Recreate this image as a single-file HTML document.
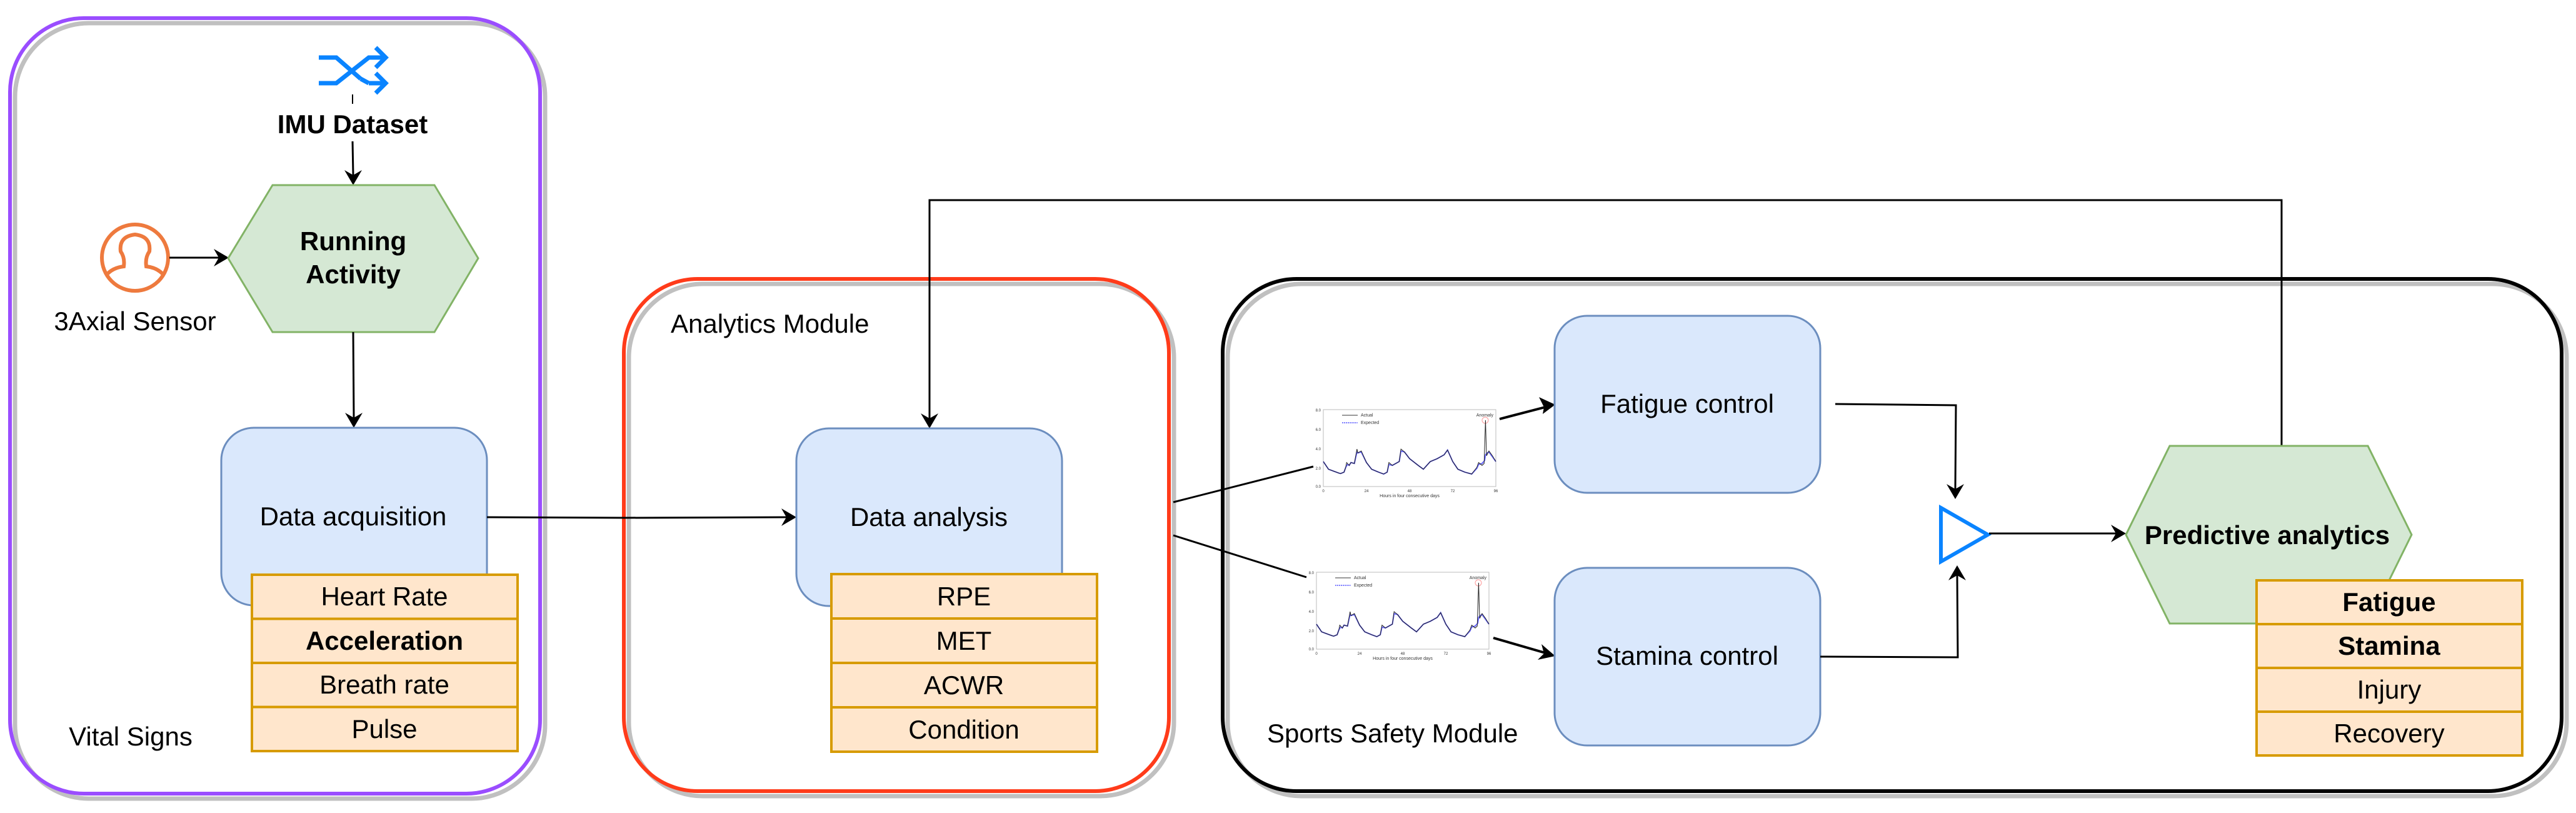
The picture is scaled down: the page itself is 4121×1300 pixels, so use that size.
<!DOCTYPE html>
<html><head><meta charset="utf-8"><style>
html,body{margin:0;padding:0;background:#fff;}
svg{display:block;}
text{font-family:"Liberation Sans",Arial,sans-serif;font-size:42px;fill:#000;}
.b{font-weight:bold;}
text.s6{font-size:6px;fill:#333;}
text.s7{font-size:7px;fill:#333;}
</style></head><body>
<svg width="4121" height="1300" viewBox="0 0 4121 1300" xmlns="http://www.w3.org/2000/svg">
<defs>
<symbol id="chart" overflow="visible">
 <rect x="0" y="0" width="276" height="123" fill="#fff" stroke="#bbb" stroke-width="1"/>
 <text class="s6" x="-4" y="3" style="font-size:6px" text-anchor="end">8.0</text>
 <text class="s6" x="-4" y="34" style="font-size:6px" text-anchor="end">6.0</text>
 <text class="s6" x="-4" y="65" style="font-size:6px" text-anchor="end">4.0</text>
 <text class="s6" x="-4" y="96" style="font-size:6px" text-anchor="end">2.0</text>
 <text class="s6" x="-4" y="125" style="font-size:6px" text-anchor="end">0.0</text>
 <text class="s6" x="0" y="132" style="font-size:6px" text-anchor="middle">0</text>
 <text class="s6" x="69" y="132" style="font-size:6px" text-anchor="middle">24</text>
 <text class="s6" x="138" y="132" style="font-size:6px" text-anchor="middle">48</text>
 <text class="s6" x="207" y="132" style="font-size:6px" text-anchor="middle">72</text>
 <text class="s6" x="276" y="132" style="font-size:6px" text-anchor="middle">96</text>
 <text class="s7" x="138" y="140" style="font-size:7px" text-anchor="middle">Hours in four consecutive days</text>
 <text class="s7" x="60" y="11" style="font-size:7px">Actual</text>
 <text class="s7" x="60" y="23" style="font-size:7px">Expected</text>
 <text class="s7" x="272" y="11" style="font-size:7px" text-anchor="end">Anomaly</text>
 <line x1="30" y1="9" x2="55" y2="9" stroke="#333" stroke-width="1"/>
 <line x1="30" y1="21" x2="55" y2="21" stroke="#55f" stroke-width="1.5" stroke-dasharray="2 1"/>
 <circle cx="259" cy="17" r="5" fill="none" stroke="#f99" stroke-width="1"/>
 <g transform="translate(0,123) scale(2.76,-15.375)">
  <polyline fill="none" stroke="#66f" stroke-width="2" vector-effect="non-scaling-stroke" points="0,2.6 3,1.8 6,1.6 9,1.4 10,1.35 12,1.5 13,2.0 14,2.3 15,2.2 16,2.5 18,2.4 19.5,3.6 20,3.5 22,3.6 25,2.5 28,1.8 32,1.5 35,1.3 37,1.5 38,2.3 40,2.2 44,2.6 45,3.7 47,3.6 50,2.9 55,2.2 58,1.8 62,2.6 66,2.9 70,3.3 72,3.8 75,2.6 78,1.8 82,1.5 86,1.3 89,1.9 90,2.3 92,2.4 93.5,2.7 94,3.3 95,3.5 96,3.6 98,3.1 100,2.6"/>
  <polyline fill="none" stroke="#222" stroke-width="1" vector-effect="non-scaling-stroke" points="0,2.6 3,1.8 6,1.6 9,1.4 10,1.35 12,1.5 13,2.0 13.5,2.5 15,2.2 16,2.5 18,2.4 19.5,3.9 20,3.5 22,3.7 25,2.5 28,1.8 32,1.5 35,1.3 37,1.5 38,2.5 40,2.2 44,2.6 45,3.9 47,3.6 50,2.9 55,2.2 58,1.8 62,2.6 66,2.9 70,3.3 72,3.8 75,2.6 78,1.8 82,1.5 86,1.3 89,2.0 90,2.5 92,2.2 93.2,2.4 94,6.9 94.6,3.2 96,3.7 98,3.2 100,2.6"/>
 </g>
</symbol>
</defs>

<rect x="24" y="37" width="848" height="1240" rx="118" fill="none" stroke="#c0c0c0" stroke-width="7"/>
<rect x="16" y="29" width="848" height="1240" rx="118" fill="none" stroke="#9a4dff" stroke-width="6"/>
<rect x="1006" y="454" width="872" height="819" rx="118" fill="none" stroke="#c0c0c0" stroke-width="7"/>
<rect x="998" y="446" width="872" height="819" rx="118" fill="none" stroke="#ff3b1a" stroke-width="6"/>
<rect x="1964" y="454" width="2142" height="819" rx="118" fill="none" stroke="#c0c0c0" stroke-width="7"/>
<rect x="1956" y="446" width="2142" height="819" rx="118" fill="none" stroke="#000" stroke-width="6"/>

<g fill="none" stroke="#0a84ff" stroke-width="7">
 <polyline points="510,92 538,92 577,126"/>
 <polyline points="510,133 538,133 590,92 617,92"/>
 <polyline points="590,133 617,133"/>
 <line x1="577" y1="126" x2="590" y2="133"/>
 <polyline points="601,76 617,92 601,108"/>
 <polyline points="601,117 617,133 601,149"/>
</g>
<line x1="564" y1="151" x2="564" y2="166" stroke="#000" stroke-width="2"/>
<text x="564" y="213" class="b" text-anchor="middle">IMU Dataset</text>
<line x1="564" y1="226" x2="565" y2="280" stroke="#000" stroke-width="3"/>
<polygon points="551,272 565,296 579,272 565,280" fill="#000"/>

<circle cx="216" cy="412" r="53" fill="none" stroke="#ee7a3e" stroke-width="6"/>
<path d="M170,440 Q180,428 198,426 Q200,412 193,402 Q190,378 216,375 Q242,378 239,402 Q232,412 234,426 Q252,428 262,440" fill="none" stroke="#ee7a3e" stroke-width="6"/>
<line x1="271" y1="412" x2="350" y2="412" stroke="#000" stroke-width="3"/>
<polygon points="342,398 366,412 342,426 350,412" fill="#000"/>
<text x="216" y="528" text-anchor="middle">3Axial Sensor</text>

<polygon points="436,296 695,296 765,413 695,531 436,531 365,413" fill="#d5e8d4" stroke="#82b366" stroke-width="3"/>
<text x="565" y="400" class="b" text-anchor="middle">Running</text>
<text x="565" y="453" class="b" text-anchor="middle">Activity</text>
<line x1="565" y1="531" x2="566" y2="668" stroke="#000" stroke-width="3"/>
<polygon points="552,660 566,684 580,660 566,668" fill="#000"/>

<rect x="354" y="684" width="425" height="284" rx="52" fill="#dae8fc" stroke="#6c8ebf" stroke-width="3"/>
<text x="565" y="840" text-anchor="middle">Data acquisition</text>
<g fill="#ffe6cc" stroke="#d79b00" stroke-width="4">
 <rect x="403" y="919" width="425" height="70.5"/>
 <rect x="403" y="989.5" width="425" height="70.5"/>
 <rect x="403" y="1060" width="425" height="70.5"/>
 <rect x="403" y="1130.5" width="425" height="70.5"/>
</g>
<text x="615" y="968" text-anchor="middle">Heart Rate</text>
<text x="615" y="1039" text-anchor="middle" class="b">Acceleration</text>
<text x="615" y="1109" text-anchor="middle">Breath rate</text>
<text x="615" y="1180" text-anchor="middle">Pulse</text>
<text x="209" y="1192" text-anchor="middle">Vital Signs</text>

<polyline points="779,827 1000,828 1260,827" fill="none" stroke="#000" stroke-width="3"/>
<polygon points="1250,813 1274,827 1250,841 1258,827" fill="#000"/>

<text x="1073" y="532">Analytics Module</text>
<polyline points="3650,713 3650,320 1487,320 1487,672" fill="none" stroke="#000" stroke-width="3"/>
<polygon points="1473,661 1487,685 1501,661 1487,669" fill="#000"/>

<rect x="1274" y="685" width="425" height="284" rx="52" fill="#dae8fc" stroke="#6c8ebf" stroke-width="3"/>
<text x="1486" y="841" text-anchor="middle">Data analysis</text>
<g fill="#ffe6cc" stroke="#d79b00" stroke-width="4">
 <rect x="1330" y="918" width="425" height="71"/>
 <rect x="1330" y="989" width="425" height="71"/>
 <rect x="1330" y="1060" width="425" height="71"/>
 <rect x="1330" y="1131" width="425" height="71"/>
</g>
<text x="1542" y="968" text-anchor="middle">RPE</text>
<text x="1542" y="1039" text-anchor="middle">MET</text>
<text x="1542" y="1110" text-anchor="middle">ACWR</text>
<text x="1542" y="1181" text-anchor="middle">Condition</text>

<line x1="1877" y1="803" x2="2101" y2="746" stroke="#000" stroke-width="3"/>
<line x1="1877" y1="856" x2="2090" y2="923" stroke="#000" stroke-width="3"/>
<use href="#chart" x="2117" y="655"/>
<use href="#chart" x="2106" y="915"/>

<line x1="2399" y1="670" x2="2472" y2="651" stroke="#000" stroke-width="4"/>
<polygon points="2462,635 2488,647 2468,662 2470,651" fill="#000"/>
<line x1="2389" y1="1020" x2="2472" y2="1044" stroke="#000" stroke-width="4"/>
<polygon points="2466,1030 2488,1049 2460,1055 2470,1045" fill="#000"/>

<rect x="2487" y="505" width="425" height="283" rx="52" fill="#dae8fc" stroke="#6c8ebf" stroke-width="3"/>
<text x="2699" y="660" text-anchor="middle">Fatigue control</text>
<rect x="2487" y="908" width="425" height="284" rx="52" fill="#dae8fc" stroke="#6c8ebf" stroke-width="3"/>
<text x="2699" y="1063" text-anchor="middle">Stamina control</text>
<text x="2027" y="1187">Sports Safety Module</text>

<polyline points="2936,646 3129,648 3128,782" fill="none" stroke="#000" stroke-width="3"/>
<polygon points="3114,774 3128,798 3142,774 3128,782" fill="#000"/>
<polyline points="2912,1050 3132,1051 3131,920" fill="none" stroke="#000" stroke-width="3"/>
<polygon points="3117,928 3131,904 3145,928 3131,920" fill="#000"/>
<polygon points="3105,812 3180,855 3105,898" fill="none" stroke="#0a84ff" stroke-width="6"/>
<line x1="3182" y1="853" x2="3385" y2="853" stroke="#000" stroke-width="3"/>
<polygon points="3377,839 3401,853 3377,867 3385,853" fill="#000"/>

<polygon points="3471,713 3788,713 3858,855 3788,997 3471,997 3401,855" fill="#d5e8d4" stroke="#82b366" stroke-width="3"/>
<text x="3627" y="870" class="b" text-anchor="middle">Predictive analytics</text>
<g fill="#ffe6cc" stroke="#d79b00" stroke-width="4">
 <rect x="3610" y="928" width="425" height="70"/>
 <rect x="3610" y="998" width="425" height="70"/>
 <rect x="3610" y="1068" width="425" height="70"/>
 <rect x="3610" y="1138" width="425" height="70"/>
</g>
<text x="3822" y="977" text-anchor="middle" class="b">Fatigue</text>
<text x="3822" y="1047" text-anchor="middle" class="b">Stamina</text>
<text x="3822" y="1117" text-anchor="middle">Injury</text>
<text x="3822" y="1187" text-anchor="middle">Recovery</text>
</svg>
</body></html>
